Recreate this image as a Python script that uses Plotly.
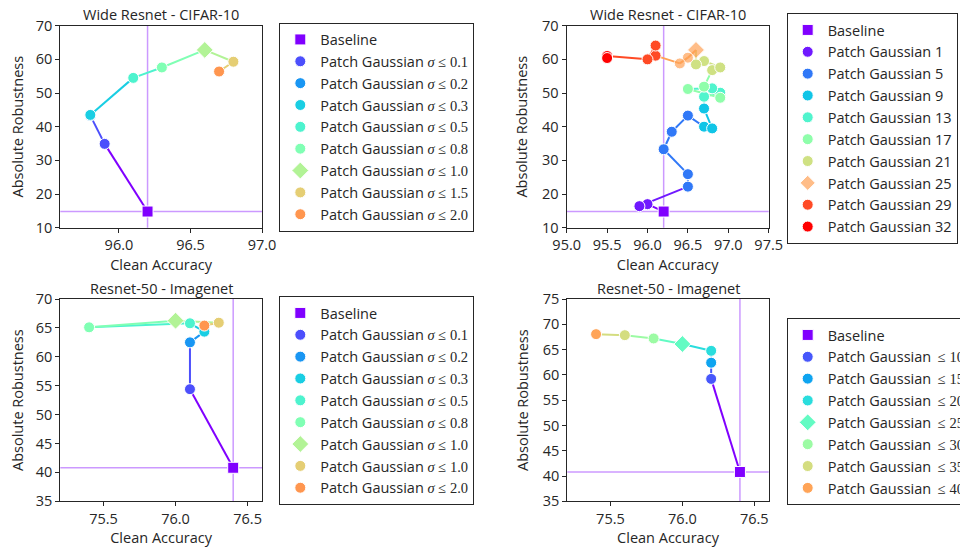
import math
import plotly.graph_objects as go

FONT = "Open Sans"
TXT = "#262626"
W, H = 960, 541     # page body has an 8px margin inside the 968x549 window
OFF = 8

def px(x):
    return (x - OFF) / W

def py(y):
    return 1 - (y - OFF) / H

def rainbow(t):
    r = min(max(abs(2 * t - 0.5), 0), 1)
    g = min(max(math.sin(math.pi * t), 0), 1)
    b = min(max(math.cos(math.pi * t / 2), 0), 1)
    return f"rgb({round(r*255)},{round(g*255)},{round(b*255)})"

def sig(s):
    return f"Patch Gaussian <span style='font-family:Liberation Serif'><i>σ</i> ≤ {s}</span>"

def leq(s):
    return f"Patch Gaussian <span style='font-family:Liberation Serif'>\u2009≤ {s}</span>"

# ---------------- data ----------------
# Top-left: Wide Resnet - CIFAR-10 (sigma sweep)
tl_sigmas = ["0.1", "0.2", "0.3", "0.5", "0.8", "1.0", "1.5", "2.0"]
tl_x = [[96.2], [95.9], [95.8], [95.8], [96.1], [96.3], [96.6], [96.8], [96.7]]
tl_y = [[14.8], [34.9], [43.3], [43.5], [54.5], [57.6], [62.8], [59.3], [56.4]]

# Top-right: Wide Resnet - CIFAR-10 (patch size sweep)
tr_sizes = [1, 5, 9, 13, 17, 21, 25, 29, 32]
tr_x = [[96.2], [96.0, 95.9], [96.5, 96.5, 96.2, 96.3, 96.5], [96.7, 96.8, 96.7],
        [96.7, 96.9, 96.8], [96.5, 96.9, 96.7], [96.8, 96.9, 96.7, 96.6],
        [96.6, 96.5, 96.4], [96.1, 96.1, 96.0], [95.5, 95.5]]
tr_y = [[14.8], [17.0, 16.4], [22.2, 25.9, 33.3, 38.5, 43.3], [40.0, 39.5, 45.4],
        [48.9, 50.1, 51.4], [51.2, 48.6, 51.9], [56.8, 57.6, 59.5, 58.5],
        [62.8, 60.5, 58.8], [61.1, 64.1, 60.0], [61.0, 60.4]]

# Bottom-left: Resnet-50 - Imagenet (sigma sweep)
bl_sigmas = ["0.1", "0.2", "0.3", "0.5", "0.8", "1.0", "1.0", "2.0"]
bl_x = [[76.4], [76.1], [76.1], [76.2], [76.1], [75.4], [76.0], [76.3], [76.2]]
bl_y = [[40.8], [54.4], [62.5], [64.35], [65.8], [65.1], [66.25], [65.9], [65.4]]

# Bottom-right: Resnet-50 - Imagenet (patch size sweep)
br_sizes = ["100", "150", "200", "250", "300", "350", "400"]
br_x = [[76.4], [76.2], [76.2], [76.2], [76.0], [75.8], [75.6], [75.4]]
br_y = [[40.8], [59.2], [62.4], [64.75], [66.1], [67.2], [67.85], [68.05]]

panels = [
    dict(names=["Baseline"] + [sig(s) for s in tl_sigmas], xs=tl_x, ys=tl_y,
         colors=[rainbow(i / 10) for i in range(9)], diamond=6, legend="legend",
         title="Wide Resnet - CIFAR-10", xr=[95.59, 97.0], yr=[10, 70],
         xt=[96.0, 96.5, 97.0], yt=list(range(10, 71, 10)),
         dom_x=[60.3, 262.0], dom_y=[25.7, 227.7], leg=[279.3, 22.5]),
    dict(names=["Baseline"] + [f"Patch Gaussian {s}" for s in tr_sizes], xs=tr_x, ys=tr_y,
         colors=[rainbow(0)] + [rainbow(s / 32) for s in tr_sizes], diamond=7, legend="legend2",
         title="Wide Resnet - CIFAR-10", xr=[95.0, 97.5], yr=[10, 70],
         xt=[95.0, 95.5, 96.0, 96.5, 97.0, 97.5], yt=list(range(10, 71, 10)),
         dom_x=[566.7, 768.7], dom_y=[25.7, 227.7], leg=[786.7, 13.0]),
    dict(names=["Baseline"] + [sig(s) for s in bl_sigmas], xs=bl_x, ys=bl_y,
         colors=[rainbow(i / 10) for i in range(9)], diamond=6, legend="legend3",
         title="Resnet-50 - Imagenet", xr=[75.2, 76.6], yr=[35, 70],
         xt=[75.5, 76.0, 76.5], yt=list(range(35, 71, 5)),
         dom_x=[60.3, 262.0], dom_y=[299.0, 501.3], leg=[279.3, 296.0]),
    dict(names=["Baseline"] + [leq(s) for s in br_sizes], xs=br_x, ys=br_y,
         colors=[rainbow(i / 9) for i in range(8)], diamond=4, legend="legend4",
         title="Resnet-50 - Imagenet", xr=[75.2, 76.6], yr=[35, 75],
         xt=[75.5, 76.0, 76.5], yt=list(range(35, 76, 5)),
         dom_x=[567.3, 768.7], dom_y=[299.0, 501.3], leg=[786.7, 318.0]),
]

fig = go.Figure()
layout = dict(width=W, height=H, margin=dict(l=0, r=0, t=0, b=0, autoexpand=False),
              paper_bgcolor="white", plot_bgcolor="white",
              font=dict(family=FONT, size=14.5, color=TXT), showlegend=True)
shapes, annotations = [], []

for k, p in enumerate(panels, start=1):
    xa = "x" if k == 1 else f"x{k}"
    ya = "y" if k == 1 else f"y{k}"
    # connecting segments, coloured by starting point
    chain = []
    for i, (xs, ys) in enumerate(zip(p["xs"], p["ys"])):
        for xv, yv in zip(xs, ys):
            chain.append((xv, yv, p["colors"][i]))
    for a, b in zip(chain[:-1], chain[1:]):
        fig.add_trace(go.Scatter(x=[a[0], b[0]], y=[a[1], b[1]], mode="lines",
                                 line=dict(color=a[2], width=2), showlegend=False,
                                 hoverinfo="skip", xaxis=xa, yaxis=ya))
    # markers
    for i, (name, xs, ys) in enumerate(zip(p["names"], p["xs"], p["ys"])):
        if i == 0:
            sym, size = "square", 11
        elif i == p["diamond"]:
            sym, size = "diamond", 13
        else:
            sym, size = "circle", 11
        if k == 2 and i == p["diamond"]:
            sym = ["diamond"] + ["circle"] * (len(xs) - 1)
            size = [13] + [11] * (len(xs) - 1)
        fig.add_trace(go.Scatter(x=xs, y=ys, mode="markers", name=name,
                                 marker=dict(symbol=sym, size=size, color=p["colors"][i],
                                             line=dict(color="white", width=1)),
                                 legend=p["legend"], xaxis=xa, yaxis=ya))
    bx, by = p["xs"][0][0], p["ys"][0][0]
    ref = "rgba(128,0,255,0.4)"
    shapes.append(dict(type="line", xref=xa, yref=f"{ya} domain", x0=bx, x1=bx, y0=0, y1=1,
                       line=dict(color=ref, width=1.5), layer="below"))
    shapes.append(dict(type="line", xref=f"{xa} domain", yref=ya, x0=0, x1=1, y0=by, y1=by,
                       line=dict(color=ref, width=1.5), layer="below"))
    axis_common = dict(showline=True, mirror=True, linecolor=TXT, linewidth=1.25,
                       ticks="outside", ticklen=4, tickwidth=1.25, tickcolor=TXT,
                       showgrid=False, zeroline=False, fixedrange=True,
                       tickfont=dict(family=FONT, size=14.5, color=TXT))
    layout["xaxis" if k == 1 else f"xaxis{k}"] = dict(
        axis_common, domain=[px(p["dom_x"][0]), px(p["dom_x"][1])], range=p["xr"],
        tickvals=p["xt"], tickformat=".1f", anchor=ya,
        title=dict(text="Clean Accuracy", standoff=6, font=dict(size=14.5, color=TXT)))
    layout["yaxis" if k == 1 else f"yaxis{k}"] = dict(
        axis_common, domain=[py(p["dom_y"][1]), py(p["dom_y"][0])], range=p["yr"],
        tickvals=p["yt"], anchor=xa,
        title=dict(text="Absolute Robustness", standoff=10, font=dict(size=14.5, color=TXT)))
    annotations.append(dict(text=p["title"], xref="paper", yref="paper",
                            x=px((p["dom_x"][0] + p["dom_x"][1]) / 2),
                            y=py(p["dom_y"][0] - 11), xanchor="center", yanchor="middle",
                            showarrow=False, font=dict(size=14.5, color=TXT)))
    layout[p["legend"]] = dict(x=px(p["leg"][0]), y=py(p["leg"][1]), xanchor="left",
                               yanchor="top", bgcolor="white", bordercolor=TXT, borderwidth=1,
                               font=dict(family=FONT, size=14.5, color=TXT),
                               tracegroupgap=0)

layout["shapes"] = shapes
layout["annotations"] = annotations
fig.update_layout(**layout)
fig.write_html("out.html")
